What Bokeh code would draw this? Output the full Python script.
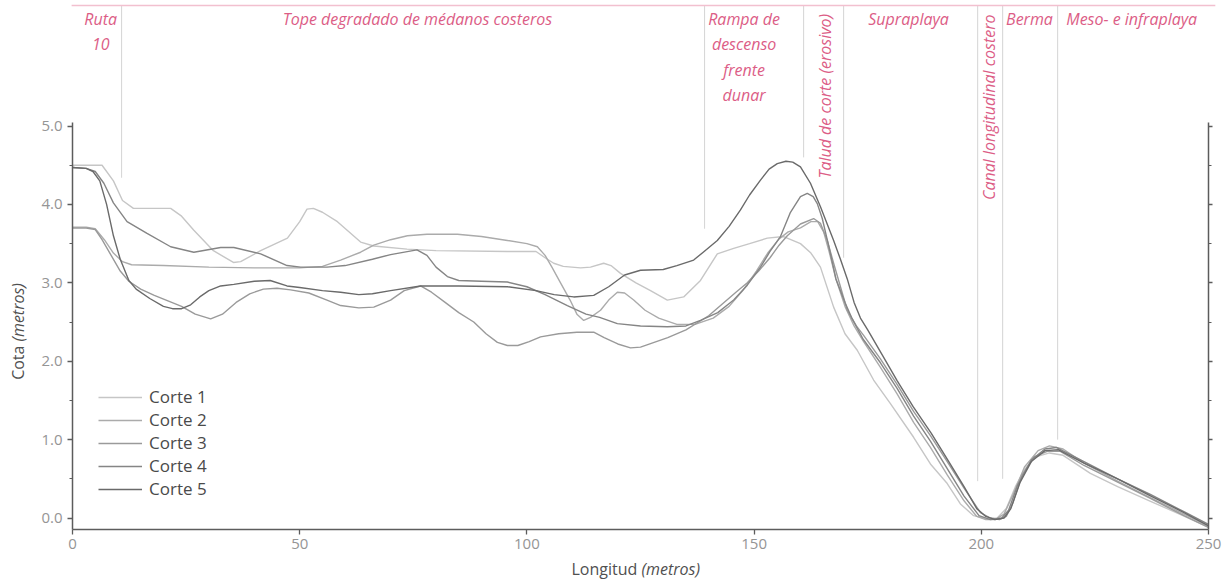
from math import pi
from bokeh.plotting import figure
from bokeh.models import (Range1d, LinearAxis, FixedTicker, Legend, LegendItem, PrintfTickFormatter)
from bokeh.embed import file_html
from bokeh.resources import INLINE
from bokeh.core.properties import value

# ---------------- data ----------------
x_ticks = [0, 50, 100, 150, 200, 250]
y_ticks = [0, 1, 2, 3, 4, 5]
y_minor = [0.5, 1.5, 2.5, 3.5, 4.5]

names = ["Corte 1", "Corte 2", "Corte 3", "Corte 4", "Corte 5"]

corte1_x = [0, 6.5, 9, 11, 13.4, 21.6, 24, 26.7, 31, 35.4, 37, 41.4, 47.3, 50, 51.6, 53, 55, 58.3, 63.4, 66.3,
            73.6, 80, 95.7, 102, 104, 105.9, 108, 111.8, 114, 116.9, 118.5, 120.6, 124, 127.2, 130.9, 134.5,
            138.2, 141.9, 145.5, 149, 152.9, 156.5, 160.2, 162.5, 164.6, 167.5, 170, 172.7, 176.3, 180, 185.1,
            188.8, 192.5, 195.4, 198.3, 201.3, 203.5, 205.5, 207.5, 209.5, 212, 215, 218, 224, 230, 237, 244, 250]
corte1_y = [4.5, 4.5, 4.3, 4.05, 3.95, 3.95, 3.85, 3.67, 3.41, 3.26, 3.27, 3.41, 3.57, 3.78, 3.94, 3.95, 3.9, 3.78,
            3.52, 3.47, 3.43, 3.41, 3.40, 3.4, 3.32, 3.25, 3.21, 3.19, 3.2, 3.25, 3.22, 3.12, 3.0, 2.9, 2.78, 2.82,
            3.03, 3.37, 3.44, 3.5, 3.57, 3.59, 3.5, 3.38, 3.2, 2.69, 2.35, 2.14, 1.76, 1.46, 1.03, 0.69, 0.44, 0.18,
            0.03, -0.01, 0.0, 0.12, 0.4, 0.62, 0.78, 0.83, 0.8, 0.57, 0.4, 0.22, 0.04, -0.12]

corte2_x = [0, 3, 5, 7, 9, 11, 13, 20, 30, 40, 50, 55, 59, 63.4, 66.3, 70, 73.7, 78, 84.7, 90, 95.7, 100, 102.3,
            104, 105.5, 107.4, 109.5, 111, 112.5, 114, 116.2, 118, 119.9, 121.5, 123.5, 126, 129, 133, 137, 141,
            144.5, 147.5, 150.5, 153, 155.5, 157.5, 160.2, 162.5, 164, 165.3, 166.5, 168, 170, 172, 174.1, 177.8,
            181.5, 185.1, 188.8, 192.5, 196.2, 199, 201, 203, 205, 207, 209.5, 212.5, 215, 218, 222.6, 230, 237.2,
            244.6, 250]
corte2_y = [3.71, 3.71, 3.69, 3.55, 3.38, 3.27, 3.23, 3.22, 3.2, 3.19, 3.19, 3.21, 3.29, 3.39, 3.48, 3.55, 3.6,
            3.62, 3.62, 3.59, 3.54, 3.5, 3.46, 3.35, 3.2, 3.0, 2.78, 2.6, 2.52, 2.56, 2.65, 2.78, 2.88, 2.87, 2.78,
            2.65, 2.55, 2.47, 2.47, 2.55, 2.7, 2.9, 3.15, 3.38, 3.56, 3.65, 3.7, 3.78, 3.78, 3.65, 3.4, 3.05, 2.7,
            2.45, 2.25, 1.92, 1.58, 1.22, 0.9, 0.55, 0.22, 0.02, -0.02, -0.02, 0.05, 0.3, 0.65, 0.86, 0.92, 0.88,
            0.7, 0.47, 0.26, 0.05, -0.1]

corte3_x = [0, 3, 5, 6.5, 8.5, 10.5, 12.4, 15, 18, 21, 24, 27, 30.4, 33, 36, 39, 42, 45, 48, 52, 56, 59, 63, 66.3,
            70, 73, 76.6, 79, 82, 85, 88.3, 91, 93.5, 95.7, 98, 100.5, 103, 107, 111, 114.7, 117, 120, 122.8, 125,
            128, 131, 135, 140, 143, 146, 148.5, 151, 153.5, 155.5, 157.3, 160.2, 163.1, 164.6, 166.1, 167.5, 169,
            170.5, 172.5, 174.1, 177.8, 181.5, 185.1, 188.8, 192.5, 196.2, 199.8, 202, 204, 205.5, 207, 209, 211.6,
            214.5, 217.4, 222.6, 229.9, 237.2, 244.6, 250]
corte3_y = [3.70, 3.70, 3.68, 3.55, 3.35, 3.15, 3.02, 2.92, 2.84, 2.77, 2.7, 2.6, 2.54, 2.6, 2.75, 2.86, 2.92, 2.93,
            2.91, 2.87, 2.78, 2.71, 2.68, 2.69, 2.78, 2.9, 2.96, 2.88, 2.75, 2.62, 2.5, 2.35, 2.24, 2.2, 2.2, 2.25,
            2.31, 2.35, 2.37, 2.37, 2.3, 2.22, 2.17, 2.18, 2.24, 2.3, 2.4, 2.58, 2.73, 2.88, 3.0, 3.15, 3.32, 3.48,
            3.6, 3.75, 3.82, 3.76, 3.54, 3.25, 2.95, 2.65, 2.45, 2.33, 2.03, 1.7, 1.36, 1.05, 0.72, 0.38, 0.07, 0.0,
            -0.02, 0.02, 0.2, 0.55, 0.78, 0.85, 0.85, 0.67, 0.46, 0.25, 0.03, -0.12]

corte4_x = [0, 3, 5, 6.9, 9, 12, 16.4, 21.6, 26.7, 32.6, 35.5, 41.4, 47.2, 50.2, 56, 60, 66, 70, 75.8, 78, 80, 82.5,
            85, 90, 95.7, 100, 104, 108.9, 113, 116, 119.9, 125, 130.9, 135, 138.2, 142, 145.5, 148.5, 151.4, 153.5,
            155.8, 158, 160.2, 161.7, 163, 163.9, 165, 166.5, 168, 170, 171.5, 174, 177.8, 181.5, 185.1, 188.8,
            192.5, 196.2, 199.5, 202, 204.5, 206, 208, 211, 214, 216.5, 222.6, 230, 237.2, 244.6, 250]
corte4_y = [4.47, 4.46, 4.42, 4.27, 4.02, 3.78, 3.63, 3.46, 3.39, 3.45, 3.45, 3.37, 3.22, 3.2, 3.2, 3.22, 3.3, 3.36,
            3.42, 3.35, 3.2, 3.08, 3.03, 3.02, 3.01, 2.95, 2.85, 2.71, 2.6, 2.56, 2.48, 2.45, 2.44, 2.45, 2.52, 2.62,
            2.78, 2.97, 3.2, 3.4, 3.59, 3.9, 4.1, 4.14, 4.1, 4.01, 3.82, 3.45, 3.05, 2.75, 2.55, 2.28, 1.98, 1.65,
            1.3, 0.98, 0.63, 0.28, 0.03, -0.02, 0.0, 0.1, 0.42, 0.74, 0.88, 0.9, 0.72, 0.5, 0.3, 0.08, -0.08]

corte5_x = [0, 3, 4.5, 6, 7.5, 9, 10.5, 12.4, 14, 17, 20, 22, 24, 26, 28, 30, 32.6, 35.5, 40, 43.5, 47.2, 50, 55,
            59, 63, 66, 70, 76.6, 85, 95.7, 102, 106, 110.3, 114.7, 118, 121.5, 125, 130, 133, 136.7, 139, 141.9,
            144.5, 147, 149, 151.4, 153.3, 155.1, 157, 158.5, 160.2, 162.4, 164.6, 167.5, 169, 170.5, 172, 173.4,
            175, 178, 181.5, 185, 189, 192.5, 196.2, 199, 201, 203, 205, 206.5, 208.5, 211, 214, 217, 222.6, 230,
            237, 244.6, 250]
corte5_y = [4.47, 4.46, 4.42, 4.3, 4.0, 3.6, 3.3, 3.03, 2.92, 2.8, 2.7, 2.67, 2.67, 2.72, 2.82, 2.9, 2.96, 2.98,
            3.02, 3.03, 2.96, 2.94, 2.9, 2.88, 2.85, 2.86, 2.9, 2.96, 2.96, 2.95, 2.9, 2.85, 2.82, 2.84, 2.95, 3.1,
            3.16, 3.17, 3.22, 3.29, 3.4, 3.54, 3.72, 3.93, 4.12, 4.31, 4.45, 4.52, 4.55, 4.54, 4.48, 4.27, 3.97,
            3.54, 3.3, 3.05, 2.75, 2.55, 2.4, 2.1, 1.75, 1.42, 1.08, 0.75, 0.4, 0.12, 0.02, -0.02, 0.0, 0.12, 0.45,
            0.72, 0.86, 0.87, 0.7, 0.5, 0.29, 0.07, -0.1]

# zone dividers (x position, lower end of the line)
divider_x = [10.8, 139.1, 160.9, 169.7, 199.2, 204.7, 216.8]
divider_bottom = [4.34, 3.69, 4.6, 3.32, 0.47, 0.5, 1.0]

# zone names (text, x, y, rotated)
zone_text = ["Ruta", "10", "Tope degradado de médanos costeros", "Rampa de", "descenso", "frente", "dunar",
             "Talud de corte (erosivo)", "Supraplaya", "Canal longitudinal costero", "Berma", "Meso- e infraplaya"]
zone_x = [6.2, 6.2, 75.9, 147.8, 147.8, 147.8, 147.8, 165.7, 184.0, 201.8, 210.6, 233.1]
zone_y = [6.36, 6.04, 6.36, 6.36, 6.04, 5.72, 5.40, 5.38, 6.36, 5.24, 6.36, 6.36]
zone_rot = [False, False, False, False, False, False, False, True, False, True, False, False]

# axis titles (plain part, italic part)
xtitle = ["Longitud", "(metros)"]
ytitle = ["Cota", "(metros)"]

# ---------------- style ----------------
FONT = "Open Sans"
colors = ["#c6c6c6", "#ababab", "#9a9a9a", "#858585", "#6a6a6a"]
PINK = "#dc5d86"
AXIS = "#5c5c5c"
Y0 = -0.147          # bottom of the axes box
YMIN, YMAX = -0.797, 6.601
XMIN, XMAX = -15.85, 253.3

# the frame covers the whole canvas; the axes are pinned at fixed data locations
p = figure(width=1223, height=580, x_range=Range1d(XMIN, XMAX), y_range=Range1d(YMIN, YMAX),
           output_backend="svg", toolbar_location=None,
           x_axis_location=None, y_axis_location=None, min_border=0)
p.outline_line_color = None
for g in p.grid:
    g.visible = False

xaxis = LinearAxis(ticker=FixedTicker(ticks=x_ticks), bounds=(0, 250), fixed_location=Y0)
yaxis = LinearAxis(ticker=FixedTicker(ticks=y_ticks, minor_ticks=y_minor), bounds=(Y0, 5.04),
                   formatter=PrintfTickFormatter(format="%.1f"), fixed_location=0)
raxis = LinearAxis(ticker=FixedTicker(ticks=y_ticks, minor_ticks=y_minor), bounds=(Y0, 5.04),
                   fixed_location=250)
for ax in (xaxis, yaxis, raxis):
    ax.axis_line_color = AXIS
    ax.axis_line_width = 1.5
    ax.major_tick_line_color = AXIS
    ax.minor_tick_line_color = AXIS
    ax.major_tick_line_width = 1.3
    ax.major_tick_in = 0
    ax.major_tick_out = 5
    ax.minor_tick_in = 0
    ax.minor_tick_out = 3
    ax.major_label_text_color = "#959595"
    ax.major_label_text_font = FONT
    ax.major_label_text_font_size = "15px"
    ax.major_label_standoff = 5
xaxis.minor_tick_out = 0
xaxis.major_label_standoff = 4
# right axis: tick marks only, no labels
raxis.major_label_overrides = {t: "" for t in y_ticks}
raxis.major_label_standoff = 0
raxis.major_tick_out = 4
p.add_layout(xaxis, "below")
p.add_layout(yaxis, "left")
p.add_layout(raxis, "right")

# dividers and top line
p.segment(x0=divider_x, y0=divider_bottom, x1=divider_x, y1=[6.537] * len(divider_x),
          line_color="#d4d4d4", line_width=1)
p.segment(x0=[-0.2], y0=[6.537], x1=[251.5], y1=[6.537], line_color="#f2c0cf", line_width=1.5)

# profiles
xs = [corte1_x, corte2_x, corte3_x, corte4_x, corte5_x]
ys = [corte1_y, corte2_y, corte3_y, corte4_y, corte5_y]
renderers = []
for xv, yv, c in zip(xs, ys, colors):
    renderers.append(p.line(xv, yv, line_color=c, line_width=1.4))

# zone labels (one text glyph per label)
for t, zx, zy, rot in zip(zone_text, zone_x, zone_y, zone_rot):
    p.text(x=[zx], y=[zy], text=[t], text_font=value(FONT), text_font_style="italic",
           text_font_size="16px", text_color=PINK, text_align="center", text_baseline="middle",
           angle=(pi / 2 if rot else 0))

# axis titles
tkw = dict(text_font=value(FONT), text_font_size="16px", text_color="#505050", text_baseline="middle")
p.text(x=[124.3], y=[-0.645], text=[xtitle[0]], text_align="right", **tkw)
p.text(x=[125.2], y=[-0.645], text=[xtitle[1]], text_align="left", text_font_style="italic", **tkw)
p.text(x=[-11.9], y=[2.20], text=[ytitle[0]], text_align="right", angle=pi / 2, **tkw)
p.text(x=[-11.9], y=[2.25], text=[ytitle[1]], text_align="left", angle=pi / 2,
       text_font_style="italic", **tkw)

# legend
legend = Legend(items=[LegendItem(label=n, renderers=[r]) for n, r in zip(names, renderers)],
                location=(98, 80))
legend.label_text_font = FONT
legend.label_text_font_size = "17px"
legend.label_text_color = "#4a4a4a"
legend.glyph_width = 44
legend.glyph_height = 16
legend.label_height = 16
legend.label_standoff = 7
legend.spacing = 0
legend.padding = 0
legend.margin = 0
legend.border_line_color = None
legend.background_fill_alpha = 0
p.add_layout(legend)

open("out.html", "w").write(file_html(p, INLINE))
